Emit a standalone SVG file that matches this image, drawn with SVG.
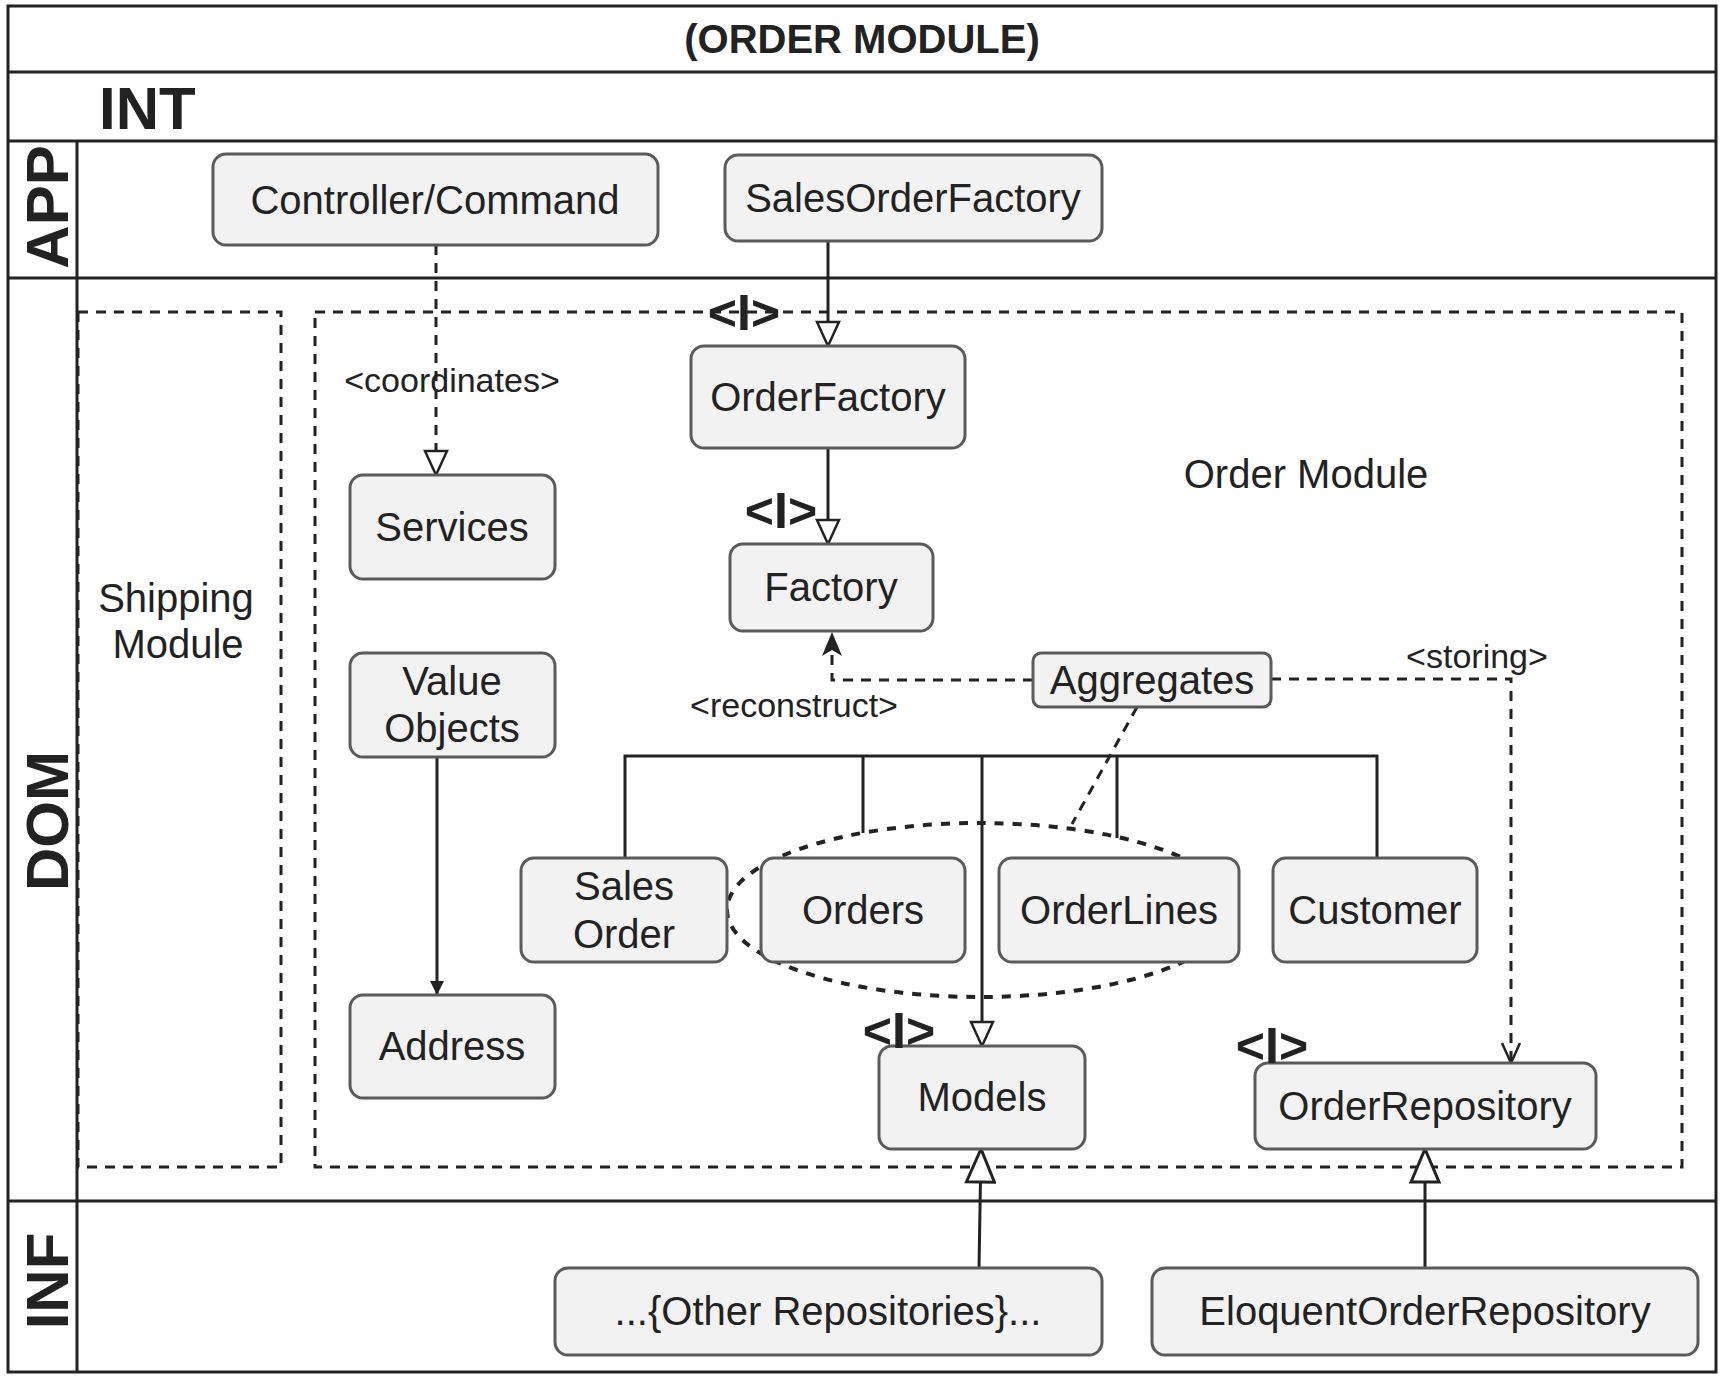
<svg xmlns="http://www.w3.org/2000/svg" width="1725" height="1380" viewBox="0 0 1725 1380">
<style>
.lane{fill:none;stroke:#222;stroke-width:3}
.mod{fill:none;stroke:#222;stroke-width:3;stroke-dasharray:10 8}
.box{fill:#f2f2f2;stroke:#5a5a5a;stroke-width:3}
.t{font-family:"Liberation Sans",Arial,Helvetica,sans-serif;font-size:40px;fill:#222;text-anchor:middle}
.s{font-family:"Liberation Sans",Arial,Helvetica,sans-serif;font-size:34px;fill:#222;text-anchor:middle}
.b{font-family:"Liberation Sans",Arial,Helvetica,sans-serif;font-weight:bold;fill:#222}
.ifc{font-family:"Liberation Sans",Arial,Helvetica,sans-serif;font-weight:bold;font-size:50px;fill:#222;text-anchor:middle}
.solid{fill:none;stroke:#222;stroke-width:3}
.dash{fill:none;stroke:#222;stroke-width:3;stroke-dasharray:10 8}
</style>
<defs>
<marker id="tri" markerUnits="userSpaceOnUse" viewBox="-2 -2 28 26" refX="24" refY="11" markerWidth="28" markerHeight="26" orient="auto">
<path d="M0,0 L24,11 L0,22 Z" fill="#fff" stroke="#222" stroke-width="2.5"/>
</marker>
<marker id="triL" markerUnits="userSpaceOnUse" viewBox="-2 -2 37 32" refX="33" refY="14" markerWidth="37" markerHeight="32" orient="auto">
<path d="M0,0 L33,14 L0,28 Z" fill="#fff" stroke="#222" stroke-width="3"/>
</marker>
<marker id="fill" markerUnits="userSpaceOnUse" viewBox="0 0 24 20" refX="24" refY="10" markerWidth="24" markerHeight="20" orient="auto">
<path d="M0,0 L24,10 L0,20 L6,10 Z" fill="#222"/>
</marker>
<marker id="small" markerUnits="userSpaceOnUse" viewBox="0 0 14 14" refX="14" refY="7" markerWidth="14" markerHeight="14" orient="auto">
<path d="M0,0 L14,7 L0,14 Z" fill="#222"/>
</marker>
<marker id="open" markerUnits="userSpaceOnUse" viewBox="-2 -2 24 22" refX="20" refY="9" markerWidth="24" markerHeight="22" orient="auto">
<path d="M0,0 L20,9 L0,18" fill="none" stroke="#222" stroke-width="2.5"/>
</marker>
</defs>

<g id="lanes">
<rect class="lane" x="8" y="6" width="1708" height="1366"/>
<line class="lane" x1="8" y1="72" x2="1716" y2="72"/>
<line class="lane" x1="8" y1="141" x2="1716" y2="141"/>
<line class="lane" x1="8" y1="278" x2="1716" y2="278"/>
<line class="lane" x1="8" y1="1201" x2="1716" y2="1201"/>
<line class="lane" x1="77" y1="141" x2="77" y2="1372"/>
<text class="b" x="862" y="53" font-size="40" text-anchor="middle">(ORDER MODULE)</text>
<text class="b" x="99" y="129" font-size="60">INT</text>
<text class="b" font-size="60" text-anchor="middle" transform="translate(68,207) rotate(-90)">APP</text>
<text class="b" font-size="60" text-anchor="middle" transform="translate(68,821) rotate(-90)">DOM</text>
<text class="b" font-size="60" text-anchor="middle" transform="translate(68,1281) rotate(-90)">INF</text>
</g>

<g id="shipping-module">
<rect class="mod" x="78" y="312" width="203" height="855"/>
<text class="t" x="176" y="612">Shipping</text>
<text class="t" x="178" y="658">Module</text>
</g>

<g id="order-module">
<rect class="mod" x="315" y="312" width="1367" height="855"/>
<text class="t" x="1306" y="488">Order Module</text>
</g>

<g id="connectors">
<line class="dash" x1="436" y1="245" x2="436" y2="475" stroke-dasharray="8 6" stroke-width="2.5" marker-end="url(#tri)"/>
<text class="s" x="452" y="392">&lt;coordinates&gt;</text>
<line class="solid" x1="828" y1="241" x2="828" y2="346" stroke-width="2.5" marker-end="url(#tri)"/>
<line class="solid" x1="828" y1="448" x2="828" y2="544" stroke-width="2.5" marker-end="url(#tri)"/>
<path class="dash" d="M1033,680 L832,680 L832,632" marker-end="url(#fill)"/>
<text class="s" x="794" y="717">&lt;reconstruct&gt;</text>
<path class="dash" d="M1271,679 L1511,679 L1511,1063" stroke-width="2.5" marker-end="url(#open)"/>
<text class="s" x="1477" y="668">&lt;storing&gt;</text>
<ellipse cx="980" cy="910" rx="253" ry="87" fill="none" stroke="#222" stroke-width="4" stroke-dasharray="9 9"/>
<line class="dash" x1="1137" y1="707" x2="1072" y2="824" stroke-width="3.5"/>
<path class="solid" d="M625,858 L625,756 L1377,756 L1377,858"/>
<line class="solid" x1="863" y1="756" x2="863" y2="833"/>
<line class="solid" x1="1117" y1="756" x2="1117" y2="838"/>
<line class="solid" x1="982" y1="756" x2="982" y2="1046" stroke-width="2.5" marker-end="url(#tri)"/>
<line class="solid" x1="437" y1="757" x2="437" y2="995" stroke-width="2.5" marker-end="url(#small)"/>
<line class="solid" x1="979" y1="1268" x2="981" y2="1149" marker-end="url(#triL)"/>
<line class="solid" x1="1425" y1="1268" x2="1425" y2="1149" marker-end="url(#triL)"/>
</g>

<g id="controller-command"><rect class="box" x="213" y="154" width="445" height="91" rx="13"/><text class="t" x="435" y="214">Controller/Command</text></g>
<g id="sales-order-factory"><rect class="box" x="725" y="155" width="377" height="86" rx="13"/><text class="t" x="913" y="212">SalesOrderFactory</text></g>
<g id="order-factory"><rect class="box" x="691" y="346" width="274" height="102" rx="13"/><text class="t" x="828" y="411">OrderFactory</text></g>
<g id="services"><rect class="box" x="350" y="475" width="205" height="104" rx="13"/><text class="t" x="452" y="541">Services</text></g>
<g id="factory"><rect class="box" x="730" y="544" width="203" height="87" rx="13"/><text class="t" x="831" y="601">Factory</text></g>
<g id="aggregates"><rect class="box" x="1033" y="653" width="238" height="54" rx="8"/><text class="t" x="1152" y="694">Aggregates</text></g>
<g id="value-objects"><rect class="box" x="350" y="653" width="205" height="104" rx="13"/><text class="t" x="452" y="695">Value</text><text class="t" x="452" y="742">Objects</text></g>
<g id="sales-order"><rect class="box" x="521" y="858" width="206" height="104" rx="13"/><text class="t" x="624" y="900">Sales</text><text class="t" x="624" y="948">Order</text></g>
<g id="orders"><rect class="box" x="761" y="858" width="204" height="104" rx="13"/><text class="t" x="863" y="924">Orders</text></g>
<g id="order-lines"><rect class="box" x="999" y="858" width="240" height="104" rx="13"/><text class="t" x="1119" y="924">OrderLines</text></g>
<g id="customer"><rect class="box" x="1273" y="858" width="204" height="104" rx="13"/><text class="t" x="1375" y="924">Customer</text></g>
<g id="address"><rect class="box" x="350" y="995" width="205" height="103" rx="13"/><text class="t" x="452" y="1060">Address</text></g>
<g id="models"><rect class="box" x="879" y="1046" width="206" height="103" rx="13"/><text class="t" x="982" y="1111">Models</text></g>
<g id="order-repository"><rect class="box" x="1255" y="1063" width="341" height="86" rx="13"/><text class="t" x="1425" y="1120">OrderRepository</text></g>
<g id="other-repositories"><rect class="box" x="555" y="1268" width="547" height="87" rx="13"/><text class="t" x="828" y="1325">...{Other Repositories}...</text></g>
<g id="eloquent-order-repository"><rect class="box" x="1152" y="1268" width="546" height="87" rx="13"/><text class="t" x="1425" y="1325">EloquentOrderRepository</text></g>

<g id="interface-marks">
<text class="ifc" x="744" y="330">&lt;I&gt;</text>
<text class="ifc" x="781" y="528">&lt;I&gt;</text>
<text class="ifc" x="899" y="1048">&lt;I&gt;</text>
<text class="ifc" x="1272" y="1063">&lt;I&gt;</text>
</g>
</svg>
